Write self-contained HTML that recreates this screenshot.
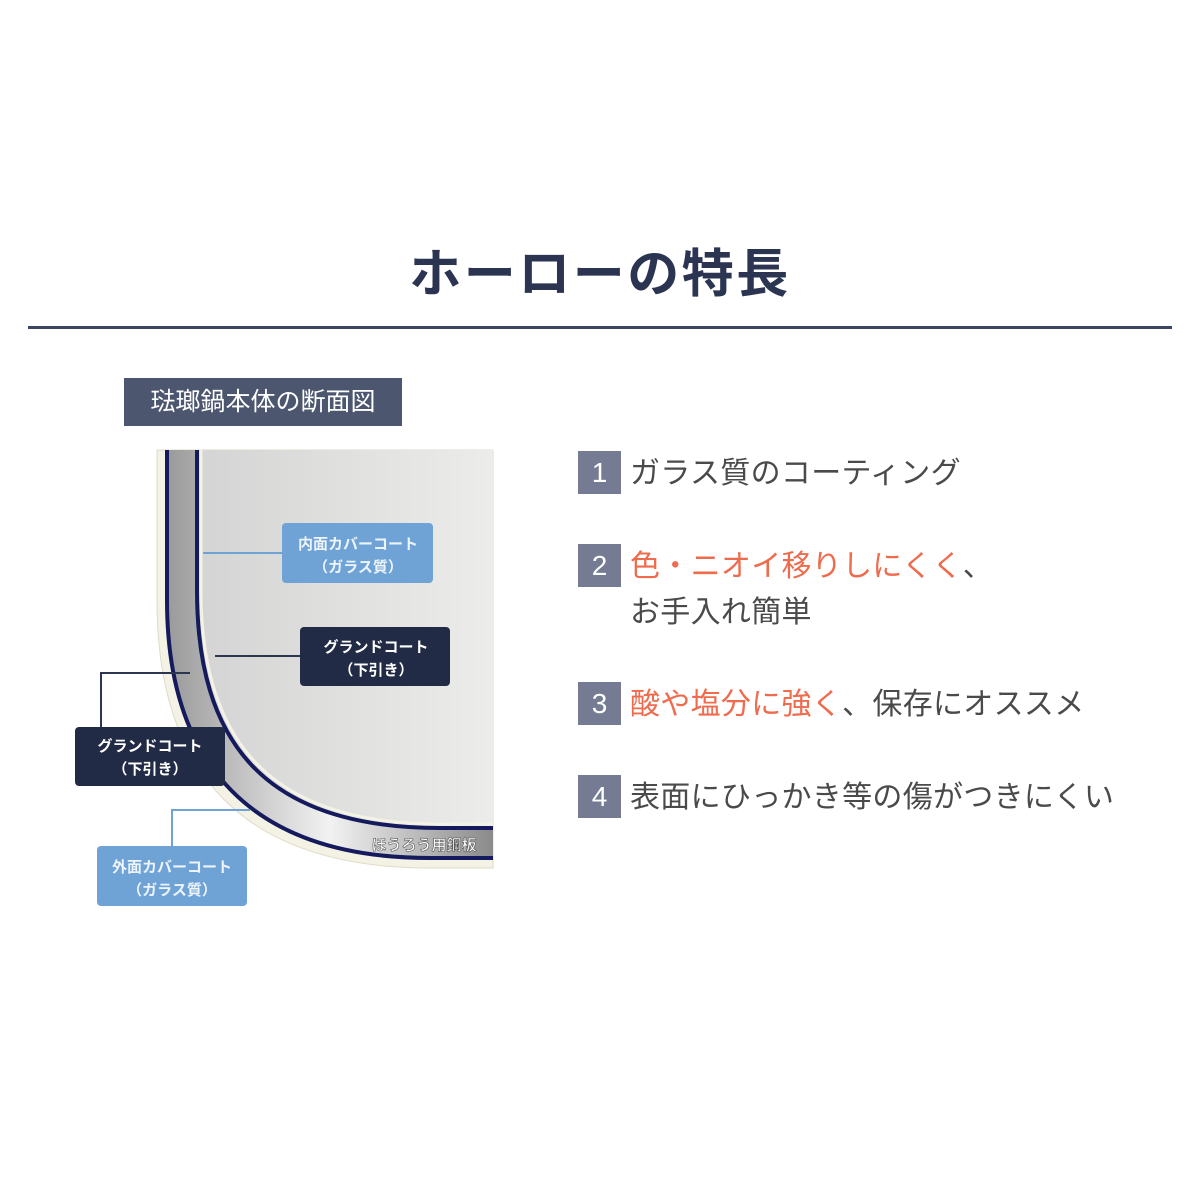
<!DOCTYPE html>
<html><head><meta charset="utf-8"><style>
html,body{margin:0;padding:0;background:#fff}
body{width:1200px;height:1200px;position:relative;overflow:hidden;font-family:"Liberation Sans","Noto Sans CJK JP",sans-serif}
.t{position:absolute;white-space:nowrap}
.num{position:absolute;left:578px;width:43px;height:43px;background:#747b92;color:#fff;font-size:28px;text-align:center;line-height:43px}
.itm{position:absolute;left:630px;font-size:30px;color:#4a4a4a;white-space:nowrap;line-height:44px;letter-spacing:0.3px}
.o{color:#ef6b4d}
</style></head><body>
<div class="t" style="left:0;width:1200px;top:240px;text-align:center;font-size:52px;font-weight:bold;color:#2b3552;line-height:70px;letter-spacing:2.5px">ホーローの特長</div>
<div style="position:absolute;left:28px;top:326px;width:1144px;height:3px;background:#3b4663"></div>
<div style="position:absolute;left:124px;top:378px;width:278px;height:48px;background:#4c566f;color:#fff;font-size:25px;line-height:48px;text-align:center">琺瑯鍋本体の断面図</div>

<svg style="position:absolute;left:0;top:0" width="1200" height="1200">
<defs>
<linearGradient id="g" x1="0" x2="1" y1="0" y2="0"><stop offset="0" stop-color="#d4d4d4"/><stop offset="1" stop-color="#ececea"/></linearGradient>
<linearGradient id="m" x1="0" x2="1" y1="0" y2="0"><stop offset="0" stop-color="#9a9a9a"/><stop offset="0.5" stop-color="#f2f2f2"/><stop offset="1" stop-color="#8a8a8a"/></linearGradient>
</defs>
<path d="M157,450 L157,600 C157,775 245,868 430,868 L493,868 L493,450 Z" fill="#f4f2e4" stroke="#dedbc8"/>
<path d="M167,450 L167,600 C167,765 252,858 430,858 L493,858 L493,450 Z" fill="url(#m)"/>
<path d="M167,450 L167,600 C167,765 252,858 430,858 L493,858" fill="none" stroke="#141a5c" stroke-width="4"/>
<path d="M197,450 L197,590 C197,740 262,828 440,828 L493,828 L493,450 Z" fill="url(#g)"/>
<path d="M197,450 L197,590 C197,740 262,828 440,828 L493,828" fill="none" stroke="#141a5c" stroke-width="4"/>
<path d="M201,450 L201,590 C201,736 265,824 440,824 L493,824" fill="none" stroke="#f4f2e4" stroke-width="3"/>
<text x="424" y="850" font-size="15" font-weight="bold" fill="#fff" stroke="#555" stroke-width="0.6" text-anchor="middle" font-family="Liberation Sans, Noto Sans CJK JP, sans-serif">ほうろう用鋼板</text>
<g stroke-width="2" fill="none">
<line x1="203" y1="553" x2="282" y2="553" stroke="#6fa3d6"/>
<line x1="215" y1="656" x2="300" y2="656" stroke="#2c3650"/>
<polyline points="190,673 101,673 101,727" stroke="#2c3650"/>
<polyline points="250,810 172,810 172,846" stroke="#6fa3d6"/>
</g>
<g font-family="Liberation Sans, Noto Sans CJK JP, sans-serif" font-size="15" font-weight="bold" text-anchor="middle">
<rect x="282" y="523" width="151" height="60" rx="4" fill="#6fa3d6"/>
<text x="358" y="549" fill="#eef4fb">内面カバーコート</text><text x="358" y="572" fill="#eef4fb">（ガラス質）</text>
<rect x="300" y="627" width="150" height="59" rx="4" fill="#222b45"/>
<text x="376" y="652" fill="#fff">グランドコート</text><text x="376" y="675" fill="#fff">（下引き）</text>
<rect x="75" y="727" width="150" height="59" rx="4" fill="#222b45"/>
<text x="150" y="751" fill="#fff">グランドコート</text><text x="150" y="774" fill="#fff">（下引き）</text>
<rect x="97" y="846" width="150" height="60" rx="4" fill="#6fa3d6"/>
<text x="172" y="872" fill="#eef4fb">外面カバーコート</text><text x="172" y="895" fill="#eef4fb">（ガラス質）</text>
</g>
</svg>

<div class="num" style="top:451px">1</div>
<div class="itm" style="top:452px">ガラス質のコーティング</div>
<div class="num" style="top:544px">2</div>
<div class="itm" style="top:545px"><span class="o">色・ニオイ移りしにくく</span>、</div>
<div class="itm" style="top:591px">お手入れ簡単</div>
<div class="num" style="top:682px">3</div>
<div class="itm" style="top:683px"><span class="o">酸や塩分に強く</span>、保存にオススメ</div>
<div class="num" style="top:775px">4</div>
<div class="itm" style="top:776px">表面にひっかき等の傷がつきにくい</div>
</body></html>
